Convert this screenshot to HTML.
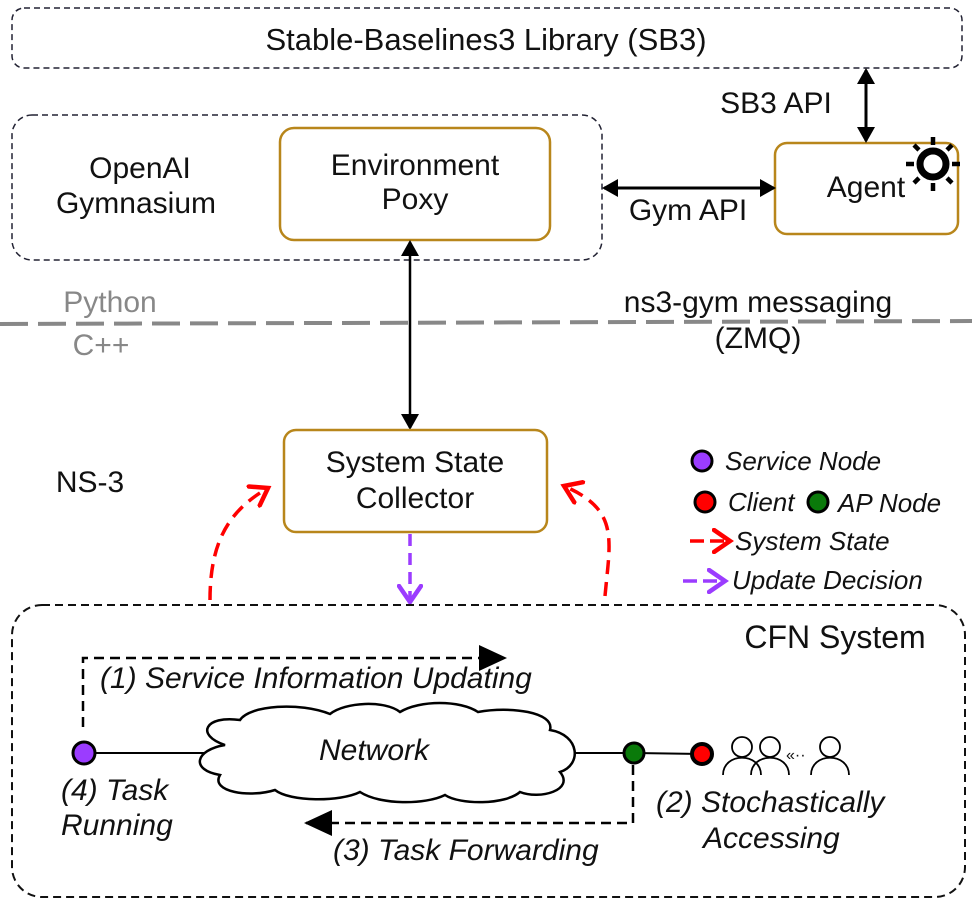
<!DOCTYPE html>
<html><head><meta charset="utf-8"><style>
body{margin:0;background:#fff}
svg{display:block}
text{font-family:"Liberation Sans",Arial,sans-serif;font-size:30px;fill:#111}
.i{font-style:italic}
.g{fill:#888}
.l{font-size:26px;font-style:italic}
</style></head><body>
<svg width="972" height="906" viewBox="0 0 972 906" xmlns="http://www.w3.org/2000/svg">
<defs>
<marker id="ab" markerWidth="16" markerHeight="18" refX="14" refY="9" orient="auto-start-reverse" markerUnits="userSpaceOnUse"><path d="M0,0 L16,9 L0,18 Z" fill="#000"/></marker>
<marker id="big" markerWidth="28" markerHeight="26" refX="26" refY="13" orient="auto" markerUnits="userSpaceOnUse"><path d="M0,0 L28,13 L0,26 Z" fill="#000"/></marker>
<marker id="rc" markerWidth="22" markerHeight="26" refX="18" refY="13" orient="auto" markerUnits="userSpaceOnUse"><path d="M2,2 L18,13 L2,24" fill="none" stroke="#f00" stroke-width="4.5" stroke-linecap="round"/></marker>
<marker id="pc" markerWidth="22" markerHeight="26" refX="18" refY="13" orient="auto" markerUnits="userSpaceOnUse"><path d="M2,2 L18,13 L2,24" fill="none" stroke="#9b3cff" stroke-width="4.5" stroke-linecap="round"/></marker>
</defs>
<rect x="12" y="8" width="950" height="60" rx="12" fill="none" stroke="#223" stroke-width="1.5" stroke-dasharray="6,4"/>
<text x="486" y="50" text-anchor="middle" style="font-size:31px">Stable-Baselines3 Library (SB3)</text>
<rect x="12" y="115" width="590" height="145" rx="20" fill="none" stroke="#223" stroke-width="1.5" stroke-dasharray="6,4"/>
<text x="140" y="178" text-anchor="middle">OpenAI</text>
<text x="136" y="213" text-anchor="middle">Gymnasium</text>
<rect x="280" y="128" width="270" height="112" rx="14" fill="#fff" stroke="#b8861b" stroke-width="2.5"/>
<text x="415" y="175" text-anchor="middle">Environment</text>
<text x="415" y="209" text-anchor="middle">Poxy</text>
<rect x="775" y="143" width="183" height="91" rx="12" fill="#fff" stroke="#b8861b" stroke-width="2.5"/>
<text x="866" y="197" text-anchor="middle">Agent</text>
<g transform="translate(933,164)" fill="none" stroke="#000">
<circle r="13" stroke-width="7"/>
<path d="M0,-27V-19M0,19V27M-27,0H-19M19,0H27M-19,-19L-14,-14M14,14L19,19M19,-19L14,-14M-14,14L-19,19" stroke-width="4.5"/>
</g>
<line x1="866" y1="70" x2="866" y2="141" stroke="#000" stroke-width="3" marker-start="url(#ab)" marker-end="url(#ab)"/>
<text x="776" y="113" text-anchor="middle">SB3 API</text>
<line x1="604" y1="188" x2="774" y2="188" stroke="#000" stroke-width="3" marker-start="url(#ab)" marker-end="url(#ab)"/>
<text x="688" y="220" text-anchor="middle">Gym API</text>
<line x1="0" y1="324" x2="972" y2="321" stroke="#888" stroke-width="4" stroke-dasharray="28,10"/>
<text x="110" y="312" class="g" text-anchor="middle">Python</text>
<text x="101" y="355" class="g" text-anchor="middle">C++</text>
<text x="758" y="312" text-anchor="middle">ns3-gym messaging</text>
<text x="758" y="348" text-anchor="middle">(ZMQ)</text>
<line x1="410" y1="242" x2="410" y2="428" stroke="#000" stroke-width="2.5" marker-start="url(#ab)" marker-end="url(#ab)"/>
<text x="90" y="492" text-anchor="middle">NS-3</text>
<rect x="284" y="430" width="263" height="102" rx="12" fill="#fff" stroke="#b8861b" stroke-width="2.5"/>
<text x="415" y="472" text-anchor="middle">System State</text>
<text x="415" y="508" text-anchor="middle">Collector</text>
<path d="M210,600 C210,540 230,510 268,488" fill="none" stroke="#f00" stroke-width="3.5" stroke-dasharray="14,8" marker-end="url(#rc)"/>
<path d="M605,596 C610,540 620,510 564,486" fill="none" stroke="#f00" stroke-width="3.5" stroke-dasharray="14,8" marker-end="url(#rc)"/>
<line x1="410" y1="534" x2="410" y2="602" stroke="#9b3cff" stroke-width="3.5" stroke-dasharray="12,7" marker-end="url(#pc)"/>
<circle cx="702" cy="461" r="10" fill="#9b3cff" stroke="#000" stroke-width="3"/>
<text x="725" y="470" class="l">Service Node</text>
<circle cx="705" cy="502" r="10" fill="#f00" stroke="#000" stroke-width="3"/>
<text x="728" y="511" class="l">Client</text>
<circle cx="818" cy="502" r="10" fill="#0a7a0a" stroke="#000" stroke-width="3"/>
<text x="838" y="512" class="l">AP Node</text>
<line x1="690" y1="541" x2="730" y2="541" stroke="#f00" stroke-width="3.5" stroke-dasharray="14,6" marker-end="url(#rc)"/>
<text x="735" y="550" class="l">System State</text>
<line x1="683" y1="581" x2="725" y2="581" stroke="#9b3cff" stroke-width="3.5" stroke-dasharray="14,6" marker-end="url(#pc)"/>
<text x="732" y="589" class="l">Update Decision</text>
<rect x="12" y="605" width="953" height="292" rx="30" fill="none" stroke="#111" stroke-width="2" stroke-dasharray="8,5"/>
<text x="835" y="648" text-anchor="middle" style="font-size:32px">CFN System</text>
<path d="M83,727 V658 H505" fill="none" stroke="#000" stroke-width="2.5" stroke-dasharray="10,6" marker-end="url(#big)"/>
<text x="100" y="688" class="i">(1) Service Information Updating</text>
<line x1="84" y1="753" x2="634" y2="753" stroke="#000" stroke-width="2"/>
<line x1="634" y1="753" x2="702" y2="754" stroke="#000" stroke-width="2"/>
<path d="M225,745 C195,735 205,715 240,720 C250,705 300,702 330,714 C345,702 385,700 400,712 C420,700 460,700 478,712 C510,706 555,712 550,730 C580,735 582,765 560,772 C575,790 540,800 520,792 C505,805 460,805 445,795 C425,805 380,805 360,792 C340,802 290,802 275,790 C250,798 210,792 220,775 C190,770 195,750 225,745 Z" fill="#fff" stroke="#000" stroke-width="2.5"/>
<text x="374" y="760" text-anchor="middle" class="i">Network</text>
<circle cx="84" cy="753" r="11" fill="#9b3cff" stroke="#000" stroke-width="3"/>
<circle cx="634" cy="753" r="10" fill="#0a7a0a" stroke="#000" stroke-width="3"/>
<circle cx="702" cy="754" r="10" fill="#f00" stroke="#000" stroke-width="4"/>
<g fill="none" stroke="#000" stroke-width="1.8">
<circle cx="742" cy="747" r="10"/><path d="M723,775 C723,752 761,752 761,775"/>
<circle cx="770" cy="747" r="10"/><path d="M751,775 C751,752 789,752 789,775"/>
<circle cx="830" cy="747" r="10"/><path d="M811,775 C811,752 849,752 849,775"/>
</g>
<text x="786" y="760" style="font-size:16px">«··</text>
<text x="61" y="800" class="i">(4) Task</text>
<text x="61" y="835" class="i">Running</text>
<path d="M633,765 V823 H306" fill="none" stroke="#000" stroke-width="2.5" stroke-dasharray="10,6" marker-end="url(#big)"/>
<text x="333" y="860" class="i">(3) Task Forwarding</text>
<text x="656" y="812" class="i">(2) Stochastically</text>
<text x="703" y="848" class="i">Accessing</text>
</svg>
</body></html>
